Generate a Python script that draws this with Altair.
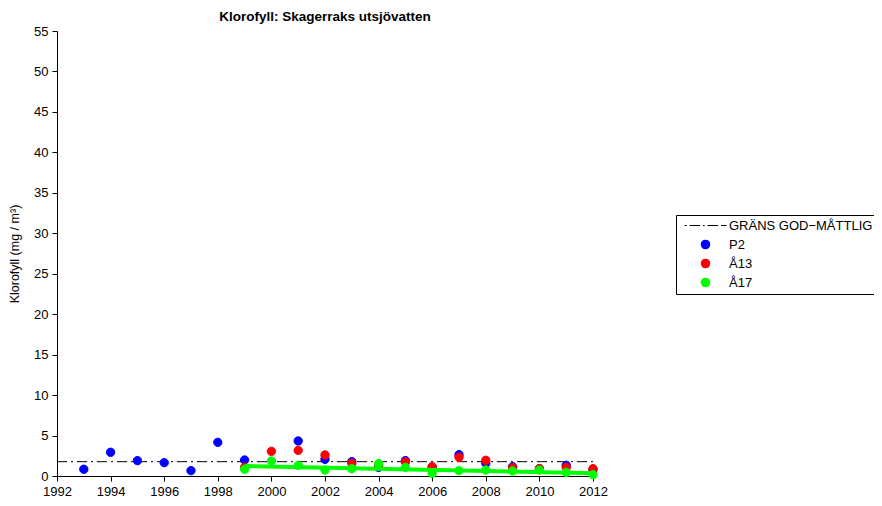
import altair as alt
import pandas as pd

# ---- data ----
years_p2 = [1993, 1994, 1995, 1996, 1997, 1998, 1999, 2001, 2002, 2003, 2004,
            2005, 2006, 2007, 2008, 2009, 2010, 2011, 2012]
p2 = [0.83, 2.93, 1.90, 1.65, 0.66, 4.16, 1.98, 4.33, 2.06, 1.77, 1.07,
      1.90, 1.10, 2.64, 1.57, 1.15, 0.90, 1.32, 0.80]

years_a13 = [1999, 2000, 2001, 2002, 2003, 2004, 2005, 2006, 2007, 2008, 2009,
             2010, 2011, 2012]
a13 = [1.07, 3.05, 3.17, 2.60, 1.57, 1.28, 1.73, 1.15, 2.31, 1.94, 1.03,
       0.90, 1.07, 0.90]

years_a17 = [1999, 2000, 2001, 2002, 2003, 2004, 2005, 2006, 2007, 2008, 2009,
             2010, 2011, 2012]
a17 = [0.83, 1.85, 1.32, 0.74, 0.90, 1.52, 1.07, 0.33, 0.66, 0.74, 0.62,
       0.74, 0.45, 0.16]

trend_years = [1999, 2012]
trend_vals = [1.24, 0.33]

limit_years = [1992, 2012]
limit_vals = [1.77, 1.77]

labels = ["GRÄNS GOD−MÅTTLIG", "P2", "Å13", "Å17"]
colors = ["black", "#0000ff", "#ff0000", "#00ff00"]
line_path = "M-5,0H-4.5M-3.8,0H-1.3M-0.6,0H-0.2M0.5,0H3M3.7,0H5"
shapes = [line_path, "circle", "circle", "circle"]

x_ticks = list(range(1992, 2013, 2))
y_ticks = list(range(0, 56, 5))

FONT = "Liberation Sans"

# ---- tables ----
rows = []
for name, ys, vs in [("P2", years_p2, p2), ("Å13", years_a13, a13), ("Å17", years_a17, a17)]:
    for y, v in zip(ys, vs):
        rows.append({"station": name, "year": y, "value": v})
points_df = pd.DataFrame(rows)
points_df["order"] = points_df["station"].map({"P2": 0, "Å13": 1, "Å17": 2})

trend_df = pd.DataFrame({"year": trend_years, "value": trend_vals})
limit_df = pd.DataFrame({"year": limit_years, "value": limit_vals})

x_enc = alt.X("year:Q", scale=alt.Scale(domain=[1992, 2012], nice=False, zero=False),
              axis=alt.Axis(values=x_ticks, format="d", title=None, labelFlush=False,
                            labelPadding=4))
y_enc = alt.Y("value:Q", scale=alt.Scale(domain=[0, 55], nice=False),
              axis=alt.Axis(values=y_ticks, title="Klorofyll (mg / m³)", labelFlush=False,
                            labelPadding=4, titlePadding=12, titleFontSize=12.5))

leg = alt.Legend(
    title=None, orient="none", legendX=619, legendY=184,
    strokeColor="black", fillColor="white", padding=4,
    symbolOffset=19, labelOffset=17, rowPadding=4,
    labelFont=FONT, labelFontSize=13, labelColor="black",
    symbolSize=70, symbolStrokeWidth=1.2,
)

limit = alt.Chart(limit_df).mark_line(color="black", strokeWidth=1, strokeDash=[10, 4, 2, 4]).encode(
    x=x_enc, y=y_enc
)

pts = alt.Chart(points_df).mark_point(filled=True, size=70, opacity=1, strokeWidth=1).encode(
    x=x_enc, y=y_enc,
    fill=alt.Fill("station:N", scale=alt.Scale(domain=labels, range=colors), legend=leg),
    stroke=alt.Stroke("station:N", scale=alt.Scale(domain=labels, range=colors), legend=leg),
    shape=alt.Shape("station:N", scale=alt.Scale(domain=labels, range=shapes), legend=leg),
    order=alt.Order("order:Q"),
)

trend = alt.Chart(trend_df).mark_line(color="#00ff00", strokeWidth=4).encode(x=x_enc, y=y_enc)

chart = alt.layer(limit, pts, trend).properties(
    width=536, height=445,
    autosize=alt.AutoSizeParams(type="none"),
    padding={"left": 49, "top": 23, "right": 281, "bottom": 22},
    title=alt.Title("Klorofyll: Skagerraks utsjövatten", font=FONT, fontSize=13.5,
                    fontWeight="bold", color="black", anchor="middle", offset=2),
).configure_view(stroke=None).configure_axis(
    grid=False, domainColor="black", tickColor="black", labelColor="black",
    labelFont=FONT, labelFontSize=13, tickSize=5, domainWidth=1, tickWidth=1,
    titleFont=FONT, titleFontSize=13, titleFontWeight="normal", titleColor="black",
)

chart.save("out.html", embed_options={"renderer": "svg", "actions": False})
